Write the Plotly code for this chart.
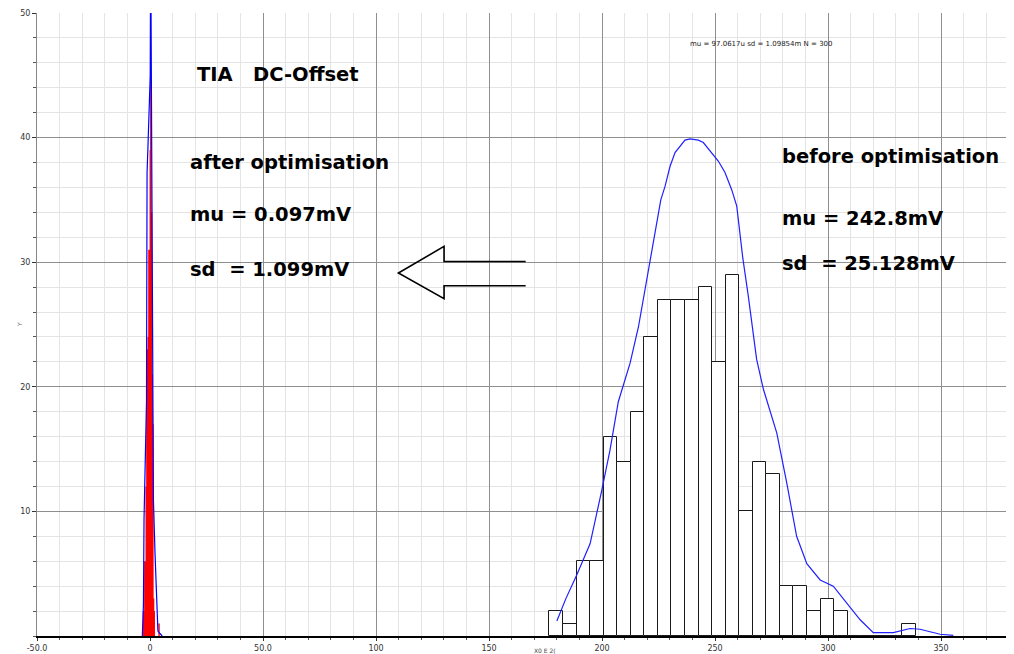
import plotly.graph_objects as go

# ---------------- data ----------------
# "before optimisation" histogram (counts per bin)
before_bin_start = 176.7
before_bin_width = 6.0
before_counts = [2, 1, 6, 6, 16, 14, 18, 24, 27, 27, 27, 28, 22, 29, 10, 14, 13,
                 4, 4, 2, 3, 2, 0, 0, 0, 0, 1]

# "before optimisation" density curve
before_curve_x = [180.0, 184.0, 188.8, 194.7, 199.9, 203.5, 207.2, 212.4, 216.1, 219.0,
                  221.2, 223.5, 226.0, 227.9, 230.1, 232.3, 234.5, 236.7, 238.9, 242.6,
                  244.8, 247.8, 251.5, 254.4, 257.4, 259.6, 261.1, 262.3, 264.7, 268.4,
                  271.4, 277.3, 281.7, 286.1, 290.6, 296.5, 302.3, 308.3, 314.2, 320.0,
                  328.9, 336.3, 340.7, 349.6, 355.4]
before_curve_y = [1.2, 3.0, 4.9, 7.4, 11.7, 14.9, 18.8, 21.9, 24.8, 27.8,
                  30.2, 32.3, 35.0, 36.1, 37.7, 38.8, 39.3, 39.8, 39.9, 39.8,
                  39.6, 38.9, 38.1, 37.2, 35.8, 34.5, 32.3, 30.3, 27.3, 22.2,
                  19.8, 16.3, 12.3, 8.0, 5.8, 4.5, 4.0, 2.6, 1.3, 0.27,
                  0.27, 0.6, 0.54, 0.14, 0.05]

# "after optimisation" histogram (counts per bin)
after_bin_start = -3.2
after_bin_width = 0.3
after_counts = [2, 2, 6, 6, 12, 23, 23, 24, 31, 31, 39, 45, 42, 34, 21, 17, 3, 2,
                0, 0, 0, 0, 0, 1, 1]

# "after optimisation" density curve
after_curve_x = [-3.4, -3.2, -2.9, -2.65, -2.4, -2.0, -1.55, -1.4, -1.3, -0.9, -0.4, 0.1,
                 0.3, 0.45, 0.6, 0.8, 1.1, 1.45, 1.5, 2.2, 2.95, 3.5, 4.4, 5.4]
after_curve_y = [0, 1.5, 2.5, 9.3, 11.5, 15, 18.8, 30, 37.2, 39.3, 42, 45,
                 56, 50, 47, 40, 25, 17, 11, 6.7, 2, 0.4, 0.2, 0]

x_tick_vals = [-50, 0, 50, 100, 150, 200, 250, 300, 350]
x_tick_text = ["-50.0", "0", "50.0", "100", "150", "200", "250", "300", "350"]
y_tick_vals = [10, 20, 30, 40, 50]
y_tick_text = ["10", "20", "30", "40", "50"]

# ---------------- derived ----------------
before_centers = [before_bin_start + (i + 0.5) * before_bin_width for i in range(len(before_counts))]

after_edges = [after_bin_start + i * after_bin_width for i in range(len(after_counts) + 1)]
after_step_x = after_edges
after_step_y = after_counts + [after_counts[-1]]

fig = go.Figure()

fig.add_trace(go.Bar(
    x=before_centers, y=before_counts, width=before_bin_width,
    marker=dict(color="white", line=dict(color="#1a1a1a", width=1)),
    hoverinfo="skip"))

fig.add_trace(go.Scatter(
    x=before_curve_x, y=before_curve_y, mode="lines",
    line=dict(color="#2020ff", width=1.2), hoverinfo="skip"))

fig.add_trace(go.Scatter(
    x=after_step_x, y=after_step_y, mode="lines", line_shape="hv",
    line=dict(color="red", width=0), fill="tozeroy", fillcolor="red",
    hoverinfo="skip"))

fig.add_trace(go.Scatter(
    x=after_curve_x, y=after_curve_y, mode="lines",
    line=dict(color="blue", width=1.2), hoverinfo="skip"))

# ---------------- arrow ----------------
arrow_tail_x = 166.2
arrow_neck_x = 130.1
arrow_tip_x = 109.9
arrow_tip_y = 29.13
arrow_upper = 30.06
arrow_lower = 28.11
arrow_head_top = 31.27
arrow_head_bot = 27.07
arrow_path = (f"M {arrow_tail_x},{arrow_upper} L {arrow_neck_x},{arrow_upper} "
              f"L {arrow_neck_x},{arrow_head_top} L {arrow_tip_x},{arrow_tip_y} "
              f"L {arrow_neck_x},{arrow_head_bot} L {arrow_neck_x},{arrow_lower} "
              f"L {arrow_tail_x},{arrow_lower}")
fig.add_shape(type="path", path=arrow_path, xref="x", yref="y",
              line=dict(color="black", width=1.6))

# ---------------- text ----------------
big = dict(family="DejaVu Sans", size=19.5, color="black")
NB = "\u00a0"
texts = [
    (f"<b>TIA{NB}{NB} DC-Offset</b>", 0.1624, 0.9005),
    ("<b>after optimisation</b>", 0.1552, 0.7608),
    ("<b>mu = 0.097mV</b>", 0.1552, 0.6758),
    (f"<b>sd{NB} = 1.099mV</b>", 0.1552, 0.5875),
    ("<b>before optimisation</b>", 0.7636, 0.7689),
    ("<b>mu = 242.8mV</b>", 0.7636, 0.6709),
    (f"<b>sd{NB} = 25.128mV</b>", 0.7636, 0.5987),
]
for t, x, y in texts:
    fig.add_annotation(text=t, x=x, y=y, xref="paper", yref="paper",
                       xanchor="left", yanchor="middle", showarrow=False, font=big)

fig.add_annotation(text="mu = 97.0617u sd = 1.09854m N = 300", x=0.7451, y=0.9502,
                   xref="paper", yref="paper", xanchor="center", yanchor="middle",
                   showarrow=False, font=dict(family="DejaVu Sans", size=7, color="#222"))
fig.add_annotation(text="X0 E 2(", x=0.5225, y=-0.024, xref="paper", yref="paper",
                   xanchor="center", yanchor="middle", showarrow=False,
                   font=dict(family="DejaVu Sans", size=6, color="#444"))
fig.add_annotation(text="Y", x=-0.018, y=0.5, xref="paper", yref="paper", textangle=-90,
                   xanchor="center", yanchor="middle", showarrow=False,
                   font=dict(family="DejaVu Sans", size=6, color="#666"))

# The page body adds an 8px margin, so the figure is 8px smaller on each axis
fig.update_layout(
    width=1006, height=646,
    margin=dict(l=29, r=4, t=5, b=18, pad=0),
    plot_bgcolor="white", paper_bgcolor="white",
    showlegend=False, barmode="overlay", bargap=0,
    hovermode=False,
    xaxis=dict(range=[-50, 380.5], tickvals=x_tick_vals, ticktext=x_tick_text,
               automargin=False,
               showgrid=True, gridcolor="#8f8f8f", gridwidth=1,
               ticks="outside", ticklen=3, tickcolor="#333",
               tickfont=dict(family="DejaVu Sans", size=8, color="#333"),
               showline=True, linecolor="black", linewidth=2, zeroline=False,
               minor=dict(dtick=10, tick0=-50, showgrid=True, gridcolor="#e4e4e4",
                          ticks="outside", ticklen=2, tickcolor="#555")),
    yaxis=dict(range=[0, 50], tickvals=y_tick_vals, ticktext=y_tick_text,
               automargin=False,
               showgrid=True, gridcolor="#8f8f8f", gridwidth=1,
               ticks="outside", ticklen=4, tickcolor="#333",
               tickfont=dict(family="DejaVu Sans", size=8, color="#333"),
               showline=True, linecolor="#888", linewidth=1, zeroline=False,
               minor=dict(dtick=2, tick0=0, showgrid=True, gridcolor="#e4e4e4",
                          ticks="outside", ticklen=3, tickcolor="#555")),
)

fig.write_html("out.html")
